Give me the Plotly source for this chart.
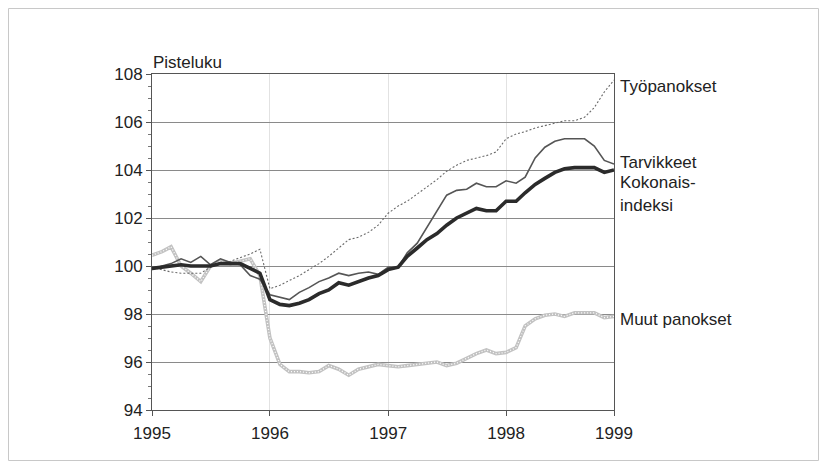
import plotly.graph_objects as go
import pandas as pd

months = pd.date_range("1995-01-01", periods=48, freq="MS")

kokonaisindeksi = [
    99.9, 99.95, 99.97, 100.05, 100.0, 100.0, 100.0, 100.1, 100.1, 100.1, 99.9, 99.7,
    98.6, 98.4, 98.35, 98.45, 98.6, 98.85, 99.0, 99.3, 99.2, 99.35, 99.5, 99.6,
    99.85, 99.95, 100.4, 100.75, 101.1, 101.35, 101.7, 102.0, 102.2, 102.4, 102.3, 102.3,
    102.7, 102.7, 103.05, 103.4, 103.65, 103.9, 104.05, 104.1, 104.1, 104.1, 103.9, 104.0,
]
tarvikkeet = [
    99.85, 100.0, 100.1, 100.3, 100.15, 100.4, 100.05, 100.3, 100.15, 100.05, 99.6, 99.45,
    98.8, 98.7, 98.6, 98.9, 99.1, 99.35, 99.5, 99.7, 99.6, 99.7, 99.75, 99.65,
    99.95, 99.95, 100.55, 100.95, 101.6, 102.3, 102.95, 103.15, 103.2, 103.45, 103.3, 103.3,
    103.55, 103.45, 103.7, 104.5, 104.95, 105.2, 105.3, 105.3, 105.3, 105.0, 104.4, 104.25,
]
tyopanokset = [
    99.95, 99.85, 99.75, 99.7, 99.7, 99.7, 99.95, 100.1, 100.2, 100.35, 100.5, 100.7,
    99.05, 99.2, 99.4, 99.6, 99.85, 100.1, 100.4, 100.75, 101.1, 101.2, 101.4, 101.7,
    102.2, 102.5, 102.7, 103.0, 103.3, 103.6, 103.95, 104.2, 104.4, 104.5, 104.6, 104.75,
    105.3, 105.5, 105.6, 105.75, 105.85, 105.95, 106.05, 106.05, 106.2, 106.6, 107.25, 107.75,
]
muut_panokset = [
    100.45, 100.6, 100.8, 100.0, 99.7, 99.35, 100.0, 100.2, 100.1, 100.2, 100.3, 99.6,
    97.0, 95.9, 95.6, 95.6, 95.55, 95.6, 95.85, 95.7, 95.45, 95.7, 95.8, 95.9,
    95.85, 95.8, 95.85, 95.9, 95.95, 96.0, 95.85, 95.95, 96.15, 96.35, 96.5, 96.35,
    96.4, 96.6, 97.5, 97.8, 97.95, 98.0, 97.9, 98.05, 98.05, 98.05, 97.85, 97.9,
]

tick_dates = ["1995-01-01", "1996-01-01", "1997-01-01", "1998-01-01", "1998-12-01"]
tick_text = ["1995", "1996", "1997", "1998", "1999"]
y_ticks = [94, 96, 98, 100, 102, 104, 106, 108]

labels = [
    ("Työpanokset", 107.5),
    ("Tarvikkeet", 104.33),
    ("Kokonais-", 103.47),
    ("indeksi", 102.54),
    ("Muut panokset", 97.77),
]

FONT = "Liberation Sans, Arial, sans-serif"
FS = 17
W, H = 811, 453
ML, MR, MT, MB = 144, 205, 66, 51
PW, PH = W - ML - MR, H - MT - MB

fig = go.Figure()
# Muut panokset: light grey beaded line (grey band with white dotted core)
fig.add_trace(go.Scatter(x=months, y=muut_panokset, mode="lines",
                         line=dict(color="#c2c2c2", width=3.6), hoverinfo="skip"))
fig.add_trace(go.Scatter(x=months, y=muut_panokset, mode="lines",
                         line=dict(color="white", width=1.3, dash="1px,2px"), hoverinfo="skip"))
fig.add_trace(go.Scatter(x=months, y=tyopanokset, mode="lines",
                         line=dict(color="#6a6a6a", width=1.1, dash="2px,2px")))
fig.add_trace(go.Scatter(x=months, y=tarvikkeet, mode="lines",
                         line=dict(color="#555555", width=1.6)))
fig.add_trace(go.Scatter(x=months, y=kokonaisindeksi, mode="lines",
                         line=dict(color="#2b2b2b", width=3.6)))

for text, yv in labels:
    fig.add_annotation(text=text, xref="paper", x=1, xanchor="left", xshift=4,
                       yref="y", y=yv, yanchor="middle", showarrow=False,
                       font=dict(family=FONT, size=FS, color="#222222"))

fig.add_annotation(text="Pisteluku", xref="paper", x=0, xanchor="left", xshift=-1,
                   yref="paper", y=1, yanchor="bottom", yshift=0, showarrow=False,
                   font=dict(family=FONT, size=FS, color="#222222"))

# outer frame at the figure edge
fig.add_shape(type="rect", xref="paper", yref="paper",
              x0=(-ML + 0.5) / PW, x1=(W - ML - 0.5) / PW,
              y0=(-MB + 0.5) / PH, y1=(H - MB - 0.5) / PH,
              line=dict(color="#c8c8c8", width=1), layer="below")

fig.update_layout(
    width=W, height=H,
    margin=dict(l=ML, r=MR, t=MT, b=MB),
    paper_bgcolor="white", plot_bgcolor="white",
    showlegend=False,
    font=dict(family=FONT, size=FS, color="#222222"),
)
fig.update_xaxes(
    range=["1995-01-01", "1998-12-01"], tickvals=tick_dates, ticktext=tick_text,
    showgrid=True, gridcolor="#e2e2e2", gridwidth=1,
    showline=True, linecolor="#555555", linewidth=1, mirror=True,
    ticks="outside", ticklen=5, tickcolor="#555555", ticklabelstandoff=3,
    tickfont=dict(family=FONT, size=FS), zeroline=False,
)
fig.update_yaxes(
    range=[94, 108], tickvals=y_ticks,
    showgrid=True, gridcolor="#8a8a8a", gridwidth=1,
    showline=True, linecolor="#555555", linewidth=1, mirror=True,
    ticks="outside", ticklen=5, tickcolor="#555555",
    minor=dict(dtick=0.5, ticks="outside", ticklen=3, tickcolor="#777777", showgrid=False),
    tickfont=dict(family=FONT, size=FS), zeroline=False,
)

fig.write_html("out.html")
